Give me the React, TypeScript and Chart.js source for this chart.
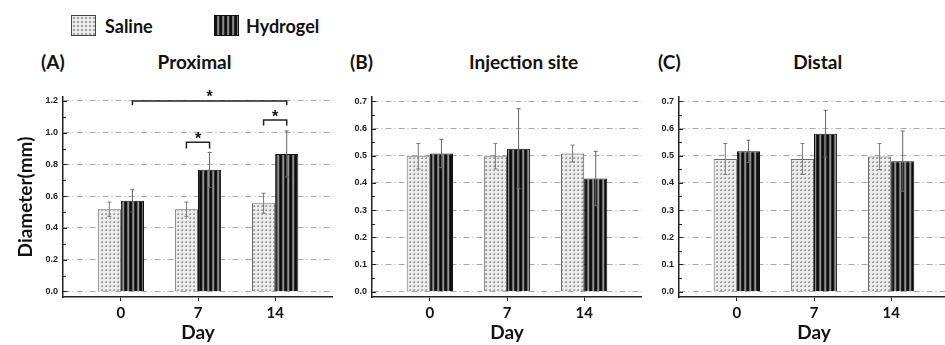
import React, { useEffect, useRef } from "react";
import { Chart, registerables } from "chart.js";

Chart.register(...registerables);

// ---------- data ----------
const days = ["0", "7", "14"];
const dayPositions = [0, 1, 2];
const seriesNames = ["Saline", "Hydrogel"];

const proximalSaline = [0.518, 0.518, 0.556];
const proximalSalineSD = [0.045, 0.045, 0.063];
const proximalHydrogel = [0.571, 0.766, 0.866];
const proximalHydrogelSD = [0.07, 0.11, 0.145];

const injectionSaline = [0.498, 0.498, 0.508];
const injectionSalineSD = [0.047, 0.047, 0.031];
const injectionHydrogel = [0.508, 0.526, 0.416];
const injectionHydrogelSD = [0.052, 0.147, 0.1];

const distalSaline = [0.488, 0.488, 0.497];
const distalSalineSD = [0.057, 0.057, 0.048];
const distalHydrogel = [0.516, 0.581, 0.48];
const distalHydrogelSD = [0.041, 0.086, 0.111];

const proximalMajorTicks = [0, 0.2, 0.4, 0.6, 0.8, 1.0, 1.2];
const proximalMinorTicks = [0.1, 0.3, 0.5, 0.7, 0.9, 1.1];
const siteMajorTicks = [0, 0.1, 0.2, 0.3, 0.4, 0.5, 0.6, 0.7];
const siteMinorTicks = [0.05, 0.15, 0.25, 0.35, 0.45, 0.55, 0.65];

// significance brackets: [datasetIndex, dayIndex] ends, bracket level, foot level, star level
const proximalBrackets = [
  { from: [1, 0], to: [1, 2], level: 1.2, foot: 1.175, star: 1.248 },
  { from: [0, 1], to: [1, 1], level: 0.94, foot: 0.9, star: 0.986 },
  { from: [0, 2], to: [1, 2], level: 1.08, foot: 1.045, star: 1.122 },
];

const panels = [
  {
    key: "A", tag: "(A)", title: "Proximal",
    saline: proximalSaline, salineSD: proximalSalineSD,
    hydrogel: proximalHydrogel, hydrogelSD: proximalHydrogelSD,
    yMin: -0.035, yMax: 1.225, majors: proximalMajorTicks, minors: proximalMinorTicks,
    yTitle: "Diameter(mm)", brackets: proximalBrackets,
    left: 0, width: 333, axisWidth: 63,
    tagX: 41, titleX: 194.5,
  },
  {
    key: "B", tag: "(B)", title: "Injection site",
    saline: injectionSaline, salineSD: injectionSalineSD,
    hydrogel: injectionHydrogel, hydrogelSD: injectionHydrogelSD,
    yMin: -0.02, yMax: 0.716, majors: siteMajorTicks, minors: siteMinorTicks,
    yTitle: "", brackets: [],
    left: 340, width: 302, axisWidth: 32,
    tagX: 350, titleX: 523.5,
  },
  {
    key: "C", tag: "(C)", title: "Distal",
    saline: distalSaline, salineSD: distalSalineSD,
    hydrogel: distalHydrogel, hydrogelSD: distalHydrogelSD,
    yMin: -0.02, yMax: 0.716, majors: siteMajorTicks, minors: siteMinorTicks,
    yTitle: "", brackets: [],
    left: 647, width: 302, axisWidth: 32,
    tagX: 658, titleX: 817.7,
  },
];

const TEXT_FONT = "Lato, 'Open Sans', sans-serif";
const TICK_FONT = "'Liberation Sans', Arial, sans-serif";

function makePatterns() {
  const s = document.createElement("canvas");
  s.width = 4; s.height = 4;
  const sc = s.getContext("2d")!;
  sc.fillStyle = "#ececec"; sc.fillRect(0, 0, 4, 4);
  sc.fillStyle = "#a0a0a0"; sc.fillRect(1, 1, 2, 2);
  sc.fillStyle = "#cfcfcf"; sc.fillRect(1, 1, 1, 1);

  const h = document.createElement("canvas");
  h.width = 5; h.height = 4;
  const hc = h.getContext("2d")!;
  const cols = ["#0a0a0a", "#161616", "#6e6e6e", "#929292", "#2e2e2e"];
  cols.forEach((c, i) => { hc.fillStyle = c; hc.fillRect(i, 0, 1, 4); });

  return {
    saline: sc.createPattern(s, "repeat"),
    hydrogel: hc.createPattern(h, "repeat"),
  };
}

const errorBarPlugin = {
  id: "errorBars",
  afterDatasetsDraw(chart: any) {
    const ctx = chart.ctx;
    const y = chart.scales.y;
    chart.data.datasets.forEach((ds: any, di: number) => {
      const meta = chart.getDatasetMeta(di);
      meta.data.forEach((bar: any, i: number) => {
        const v = ds.data[i].y;
        const e = ds.errors[i];
        const top = y.getPixelForValue(v + e);
        const bot = y.getPixelForValue(v - e);
        ctx.save();
        ctx.strokeStyle = ds.errorColor;
        ctx.lineWidth = 1;
        ctx.beginPath();
        ctx.moveTo(bar.x, top); ctx.lineTo(bar.x, bot);
        ctx.moveTo(bar.x - 2, top); ctx.lineTo(bar.x + 2, top);
        ctx.moveTo(bar.x - 2, bot); ctx.lineTo(bar.x + 2, bot);
        ctx.stroke();
        ctx.restore();
      });
    });
  },
};

function tickMarkPlugin(majors: number[], minors: number[]) {
  return {
    id: "tickMarks",
    afterDraw(chart: any) {
      const ctx = chart.ctx;
      const y = chart.scales.y;
      const left = chart.chartArea.left;
      ctx.save();
      ctx.strokeStyle = "#222";
      ctx.lineWidth = 1;
      ctx.beginPath();
      majors.forEach((v) => {
        const py = Math.round(y.getPixelForValue(v)) + 0.5;
        ctx.moveTo(left, py); ctx.lineTo(left + 4, py);
      });
      minors.forEach((v) => {
        const py = Math.round(y.getPixelForValue(v)) + 0.5;
        ctx.moveTo(left, py); ctx.lineTo(left + 3, py);
      });
      ctx.stroke();
      ctx.restore();
    },
  };
}

function bracketPlugin(brackets: any[]) {
  return {
    id: "brackets",
    afterDraw(chart: any) {
      const ctx = chart.ctx;
      const y = chart.scales.y;
      brackets.forEach((b) => {
        const x1 = chart.getDatasetMeta(b.from[0]).data[b.from[1]].x;
        const x2 = chart.getDatasetMeta(b.to[0]).data[b.to[1]].x;
        const yl = y.getPixelForValue(b.level);
        const yf = y.getPixelForValue(b.foot);
        const ys = y.getPixelForValue(b.star);
        ctx.save();
        ctx.strokeStyle = "#222";
        ctx.lineWidth = 1.5;
        ctx.beginPath();
        ctx.moveTo(x1, yf); ctx.lineTo(x1, yl); ctx.lineTo(x2, yl); ctx.lineTo(x2, yf);
        ctx.stroke();
        ctx.fillStyle = "#111";
        ctx.font = "bold 16px 'Liberation Sans', Arial, sans-serif";
        ctx.textAlign = "center";
        ctx.textBaseline = "alphabetic";
        ctx.fillText("*", (x1 + x2) / 2, ys + 9);
        ctx.restore();
      });
    },
  };
}

function Panel({ p, patterns }: any) {
  const ref = useRef<HTMLCanvasElement>(null);
  useEffect(() => {
    if (!ref.current || !patterns) return;
    const chart = new Chart(ref.current, {
      type: "bar",
      data: {
        datasets: [
          {
            label: seriesNames[0],
            data: dayPositions.map((x, i) => ({ x, y: p.saline[i] })),
            backgroundColor: patterns.saline,
            borderColor: "#6a6a6a",
            borderWidth: 1,
            errors: p.salineSD,
            errorColor: "#7a7a7a",
          } as any,
          {
            label: seriesNames[1],
            data: dayPositions.map((x, i) => ({ x, y: p.hydrogel[i] })),
            backgroundColor: patterns.hydrogel,
            borderColor: "#111",
            borderWidth: 1,
            errors: p.hydrogelSD,
            errorColor: "#666",
          } as any,
        ],
      },
      options: {
        animation: false,
        responsive: false,
        maintainAspectRatio: false,
        devicePixelRatio: 1,
        layout: { padding: { top: 17, right: 0, bottom: 0, left: 0 } },
        plugins: {
          legend: { display: false },
          tooltip: { enabled: false },
          title: { display: false },
        },
        datasets: { bar: { categoryPercentage: 0.6, barPercentage: 1.0 } } as any,
        scales: {
          x: {
            type: "linear",
            min: -0.75,
            max: 2.75,
            offset: false,
            afterBuildTicks: (s: any) => { s.ticks = dayPositions.map((v) => ({ value: v })); },
            afterFit: (s: any) => { s.height = 48; },
            ticks: {
              callback: (v: any) => days[dayPositions.indexOf(Number(v))] ?? "",
              font: { family: TEXT_FONT, weight: "bold", size: 15 },
              color: "#111",
              padding: 3,
              autoSkip: false,
              maxRotation: 0,
            },
            grid: {
              display: true,
              drawOnChartArea: false,
              drawTicks: true,
              tickLength: 4,
              color: "#222",
              lineWidth: 1,
              offset: false,
            },
            border: { display: true, color: "#222", width: 1.5 },
            title: {
              display: true,
              text: "Day",
              font: { family: TEXT_FONT, weight: "bold", size: 19 },
              color: "#111",
              padding: { top: 0, bottom: 1 },
            },
          } as any,
          y: {
            type: "linear",
            min: p.yMin,
            max: p.yMax,
            afterBuildTicks: (s: any) => { s.ticks = p.majors.map((v: number) => ({ value: v })); },
            afterFit: (s: any) => { s.width = p.axisWidth; },
            ticks: {
              callback: (v: any) => Number(v).toFixed(1),
              font: { family: TICK_FONT, weight: "bold", size: 9 },
              color: "#222",
              padding: 5,
              autoSkip: false,
            },
            grid: { drawTicks: false, color: "#a8a8a8", lineWidth: 1 },
            border: { display: true, color: "#222", width: 1.5, dash: [6, 3, 1, 3] },
            title: p.yTitle
              ? {
                  display: true,
                  text: p.yTitle,
                  font: { family: TEXT_FONT, weight: "bold", size: 19 },
                  color: "#111",
                  padding: { top: 14, bottom: 0 },
                }
              : { display: false },
          } as any,
        },
      },
      plugins: [errorBarPlugin, tickMarkPlugin(p.majors, p.minors), bracketPlugin(p.brackets)],
    });
    return () => chart.destroy();
  }, [p, patterns]);

  return (
    <canvas
      ref={ref}
      width={p.width}
      height={265}
      style={{ position: "absolute", left: p.left, top: 80, width: p.width, height: 265, display: "block" }}
    />
  );
}

const headStyle: React.CSSProperties = {
  position: "absolute",
  fontFamily: TEXT_FONT,
  fontWeight: 700,
  fontSize: 19,
  color: "#111",
  lineHeight: "20px",
  whiteSpace: "nowrap",
};

export default function App() {
  const [patterns, setPatterns] = React.useState<any>(null);
  useEffect(() => { setPatterns(makePatterns()); }, []);

  return (
    <div
      style={{
        position: "absolute", left: 0, top: 0, width: 945, height: 345,
        overflow: "hidden", background: "#fff",
      }}
    >
      {/* legend */}
      <div style={{
        position: "absolute", left: 71, top: 15, width: 23, height: 19, border: "1px solid #444",
        backgroundColor: "#ececec",
        backgroundImage: "radial-gradient(#a0a0a0 0.9px, transparent 1.2px)",
        backgroundSize: "4px 4px",
      }} />
      <div style={{ ...headStyle, left: 105, top: 16, fontSize: 18 }}>{seriesNames[0]}</div>
      <div style={{
        position: "absolute", left: 214, top: 15, width: 23, height: 19, border: "1px solid #111",
        backgroundImage: "repeating-linear-gradient(90deg, #0a0a0a 0px, #161616 2px, #6e6e6e 2px, #929292 4px, #2e2e2e 4px, #2e2e2e 5px)",
      }} />
      <div style={{ ...headStyle, left: 246, top: 16, fontSize: 18 }}>{seriesNames[1]}</div>

      {panels.map((p) => (
        <React.Fragment key={p.key}>
          <div style={{ ...headStyle, left: p.tagX, top: 52 }}>{p.tag}</div>
          <div style={{ ...headStyle, left: p.titleX, top: 52, transform: "translateX(-50%)" }}>{p.title}</div>
          <Panel p={p} patterns={patterns} />
        </React.Fragment>
      ))}
    </div>
  );
}
